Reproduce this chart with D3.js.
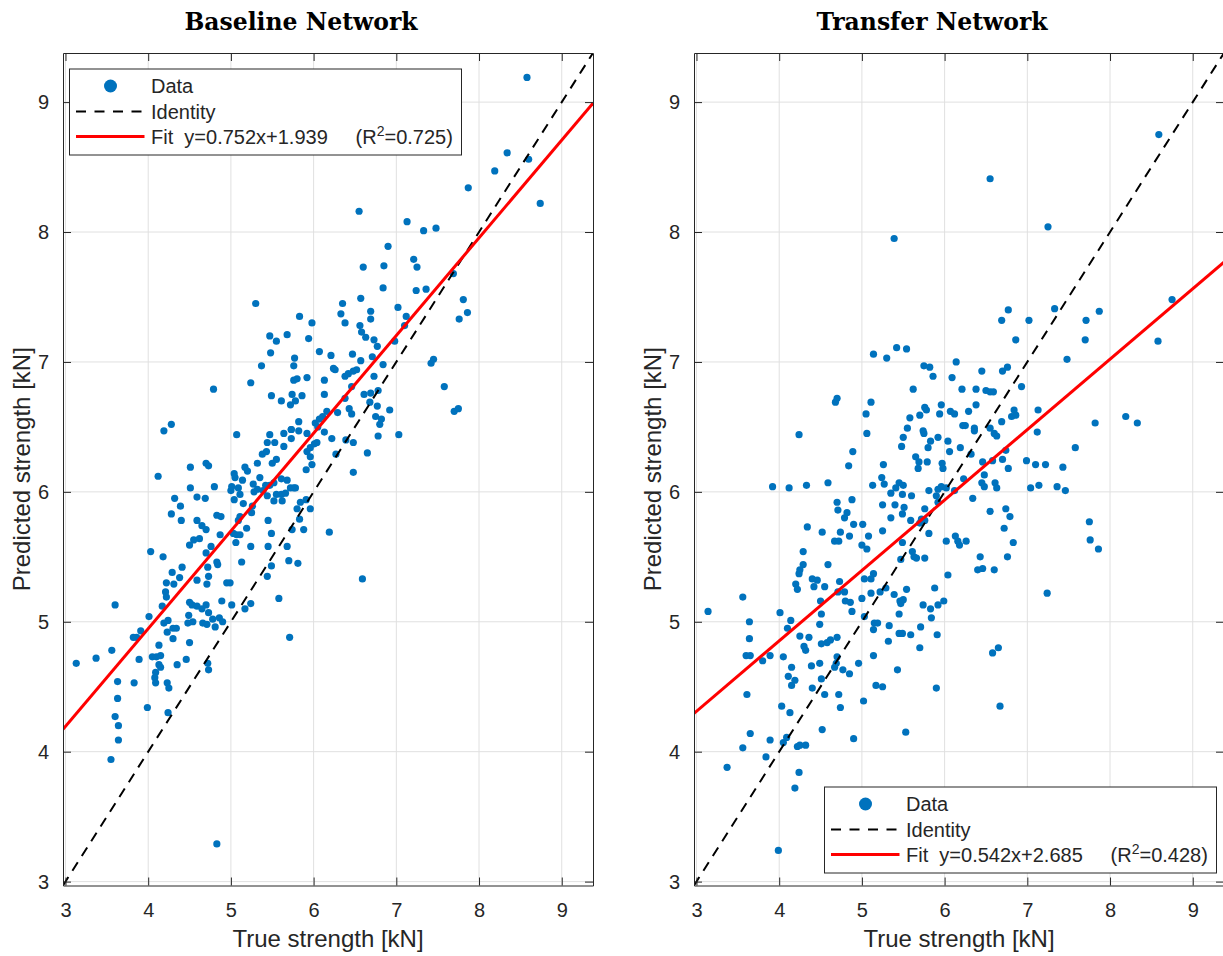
<!DOCTYPE html>
<html>
<head>
<meta charset="utf-8">
<script src="https://cdn.jsdelivr.net/npm/d3@7"></script>
<style>
  body { margin: 0; background: #fff; }
  svg { display: block; }
</style>
</head>
<body>
<div id="chart"></div>
<script>
// [true strength, predicted strength] in kN
const baselinePoints = [
  [4.19,6.47],[4.28,6.52],[5.07,6.44],[5.47,6.44],[5.64,6.45],[5.73,6.48],[5.73,6.41],[5.44,6.38],[5.53,6.38],[5.64,6.35],
  [5.38,6.29],[5.43,6.31],[5.55,6.25],[5.50,6.22],[4.12,6.12],[4.51,6.19],[4.70,6.22],[4.73,6.20],[5.04,6.14],[5.05,6.11],
  [5.17,6.19],[5.20,6.16],[5.14,6.09],[5.32,6.22],[5.35,6.11],[5.27,6.06],[5.42,6.05],[5.47,6.05],[5.52,6.07],[5.61,6.10],
  [5.68,6.09],[5.01,6.04],[5.00,6.01],[5.09,6.03],[5.11,5.98],[4.51,6.03],[4.80,6.04],[4.59,5.96],[4.69,5.95],[4.32,5.95],
  [4.39,5.89],[4.28,5.83],[4.40,5.78],[4.59,5.78],[5.04,5.94],[5.15,5.91],[5.26,5.89],[5.25,5.84],[5.11,5.81],[5.09,5.78],
  [5.28,6.00],[5.32,6.02],[5.39,6.01],[5.44,5.97],[5.55,5.98],[5.61,5.98],[5.52,5.93],[5.62,5.93],[5.66,5.99],[5.72,6.03],
  [4.83,5.82],[4.88,5.81],[4.65,5.74],[4.70,5.71],[4.62,5.64],[4.55,5.63],[4.50,5.59],[4.76,5.58],[4.70,5.53],[4.87,5.67],
  [5.03,5.68],[5.07,5.67],[5.11,5.67],[5.06,5.61],[5.24,5.58],[5.19,5.72],[5.45,5.78],[5.49,5.68],[5.45,5.58],[5.68,5.58],
  [5.74,5.71],[4.03,5.54],[4.18,5.50],[4.72,5.42],[4.59,5.32],[4.71,5.29],[4.83,5.46],[4.84,5.44],[4.73,5.35],[4.41,5.42],
  [4.29,5.38],[4.38,5.34],[4.22,5.30],[4.31,5.29],[4.21,5.23],[4.22,5.19],[4.17,5.12],[4.95,5.30],[4.99,5.30],[5.13,5.46],
  [5.49,5.43],[5.44,5.35],[5.70,5.47],[3.60,5.13],[4.01,5.04],[3.91,4.93],[3.82,4.88],[3.86,4.88],[4.50,5.15],[4.53,5.13],
  [4.59,5.12],[4.70,5.13],[4.65,5.10],[4.73,5.07],[4.49,5.05],[4.48,4.99],[4.54,5.00],[4.66,4.99],[4.71,4.98],[4.78,5.02],
  [4.86,5.03],[4.90,5.00],[4.81,4.96],[4.89,5.16],[5.01,5.13],[5.17,5.10],[5.24,5.14],[5.58,5.18],[4.19,4.99],[4.24,5.01],
  [4.23,4.92],[4.30,4.95],[4.34,4.95],[4.30,4.87],[4.13,4.82],[4.50,4.84],[3.56,4.78],[3.37,4.72],[3.13,4.68],[3.89,4.71],
  [4.05,4.73],[4.10,4.73],[4.15,4.74],[4.13,4.67],[4.15,4.65],[4.09,4.61],[4.08,4.57],[4.09,4.53],[4.23,4.53],[4.25,4.49],
  [4.35,4.67],[4.46,4.71],[4.72,4.68],[4.73,4.63],[5.71,4.88],[3.63,4.54],[3.83,4.53],[3.63,4.41],[3.99,4.34],[3.60,4.27],
  [3.64,4.20],[3.64,4.09],[3.55,3.94],[4.24,4.30],[4.83,3.29],
  [4.79,6.79],[5.24,6.84],[5.30,7.45],[5.37,6.97],[5.47,7.20],[5.55,7.16],[5.48,7.07],[5.68,7.21],[5.49,6.74],[5.61,6.70],
  [5.72,6.67],[5.74,6.75],[6.60,7.73],[6.85,7.74],[6.84,7.57],[6.57,7.49],[6.35,7.45],[6.33,7.37],[6.38,7.30],[6.69,7.39],
  [6.69,7.33],[7.02,7.42],[7.12,7.35],[7.10,7.28],[5.83,7.35],[5.98,7.30],[5.94,7.18],[6.07,7.08],[6.21,7.05],[6.47,7.06],
  [6.57,7.01],[6.56,7.28],[6.58,7.23],[6.63,7.19],[6.73,7.17],[6.77,7.12],[6.98,7.16],[5.77,7.03],[5.76,6.97],[5.76,6.86],
  [5.80,6.87],[5.92,6.88],[6.13,6.86],[6.24,6.95],[6.26,6.94],[6.38,6.89],[6.42,6.91],[6.48,6.93],[6.52,6.94],[6.71,7.04],
  [6.84,6.98],[6.73,6.89],[6.78,6.78],[6.69,6.76],[6.61,6.75],[6.68,6.69],[6.77,6.66],[6.92,6.63],[6.75,6.58],[6.80,6.52],
  [6.82,6.56],[6.78,6.43],[7.03,6.44],[6.65,6.30],[6.48,6.15],[5.78,6.70],[5.86,6.74],[6.13,6.75],[6.46,6.81],[6.38,6.72],
  [6.43,6.64],[6.46,6.60],[6.29,6.61],[6.16,6.62],[6.11,6.58],[6.07,6.56],[6.02,6.53],[6.05,6.50],[5.82,6.54],[5.73,6.48],
  [5.92,6.45],[5.82,6.47],[6.04,6.38],[6.13,6.46],[6.22,6.41],[6.01,6.37],[5.96,6.34],[5.92,6.31],[5.96,6.27],[6.27,6.29],
  [5.91,6.17],[5.98,6.21],[6.39,6.40],[6.48,6.38],[5.76,6.03],[5.78,6.03],[5.84,5.92],[5.80,5.87],[5.91,5.94],[5.96,5.87],
  [5.83,5.79],[5.88,5.71],[6.19,5.69],[5.81,5.45],[6.59,5.33],
  [8.58,9.19],[8.34,8.61],[8.60,8.56],[8.19,8.47],[7.87,8.34],[8.74,8.22],[6.55,8.16],[7.13,8.08],[7.33,8.01],[7.48,8.03],
  [6.90,7.89],[7.21,7.79],[7.25,7.73],[7.24,7.55],[7.36,7.56],[7.69,7.68],[7.81,7.48],[7.86,7.38],[7.76,7.33],[7.42,6.99],
  [7.45,7.02],[7.58,6.81],[7.70,6.62],[7.75,6.64]
];

const transferPoints = [
  [3.92,6.04],[4.12,6.03],[4.33,6.05],[4.59,6.07],[5.13,6.05],[5.24,6.11],[5.27,6.06],[5.35,5.99],[5.41,6.03],[5.45,6.07],
  [5.50,6.05],[5.49,5.98],[5.60,5.97],[4.70,5.92],[4.71,5.86],[4.88,5.94],[4.82,5.84],[4.79,5.80],[4.90,5.75],[5.01,5.75],
  [5.25,5.90],[5.35,5.80],[5.40,5.90],[5.51,5.88],[5.49,5.83],[5.59,5.78],[5.25,5.70],[4.34,5.73],[4.52,5.69],[4.74,5.69],
  [4.67,5.62],[4.72,5.62],[4.85,5.66],[5.08,5.66],[5.00,5.59],[5.06,5.56],[5.49,5.61],[5.61,5.54],[5.63,5.50],[5.66,5.49],
  [5.47,5.48],[4.29,5.54],[4.29,5.44],[4.25,5.40],[4.24,5.37],[4.20,5.29],[4.22,5.25],[4.59,5.44],[4.40,5.33],[4.46,5.32],
  [4.42,5.27],[4.55,5.27],[4.73,5.31],[4.79,5.23],[4.71,5.23],[4.88,5.08],[4.86,5.15],[4.80,5.16],[5.14,5.37],[5.11,5.33],
  [5.03,5.33],[5.00,5.18],[5.11,5.22],[5.22,5.23],[5.29,5.26],[5.39,5.21],[5.46,5.16],[5.47,5.14],[5.45,5.06],[5.50,5.17],
  [5.54,5.25],[5.03,5.04],[5.15,4.99],[5.19,4.99],[5.14,4.94],[5.33,4.97],[5.32,4.85],[5.45,4.91],[5.49,4.91],[5.59,4.90],
  [5.71,4.96],[5.70,4.80],[5.43,4.63],[5.14,4.74],[5.17,4.51],[5.25,4.50],[3.56,5.19],[3.14,5.08],[3.64,5.00],[3.64,4.87],
  [3.60,4.74],[3.65,4.74],[3.80,4.70],[3.89,4.74],[4.01,5.07],[4.14,5.01],[4.10,4.95],[4.05,4.73],[4.15,4.65],[4.11,4.58],
  [4.19,4.55],[4.15,4.51],[4.25,4.89],[4.30,4.81],[4.32,4.78],[4.36,4.88],[4.39,4.66],[4.49,4.68],[4.49,4.98],[4.51,5.06],
  [4.51,4.83],[4.50,5.16],[4.58,4.84],[4.62,4.86],[4.70,4.88],[4.70,4.73],[4.67,4.65],[4.69,4.68],[4.77,4.63],[4.85,4.60],
  [4.96,4.68],[4.51,4.56],[4.40,4.49],[4.55,4.44],[4.72,4.44],[4.74,4.34],[5.02,4.39],[3.61,4.44],[4.03,4.35],[4.13,4.30],
  [3.65,4.14],[3.56,4.03],[3.89,4.09],[3.84,3.96],[4.09,4.11],[4.05,4.07],[4.22,4.04],[4.25,4.05],[4.32,4.05],[4.52,4.17],
  [4.90,4.10],[3.37,3.88],[4.24,3.84],[4.19,3.72],[3.99,3.24],[5.53,4.15],
  [6.77,7.40],[6.69,7.32],[6.86,7.17],[5.14,7.06],[5.30,7.03],[5.42,7.11],[5.54,7.10],[5.75,6.97],[5.82,6.96],[5.86,6.89],
  [6.14,7.00],[6.09,6.88],[6.45,6.93],[6.70,6.93],[6.76,6.96],[5.62,6.79],[6.21,6.79],[6.38,6.79],[6.50,6.78],[6.55,6.77],
  [6.59,6.77],[4.68,6.69],[4.70,6.72],[5.11,6.69],[5.05,6.60],[5.06,6.45],[5.76,6.65],[5.78,6.63],[5.96,6.67],[5.94,6.60],
  [5.70,6.59],[5.58,6.57],[6.07,6.62],[6.12,6.60],[6.29,6.62],[6.38,6.67],[6.22,6.51],[6.25,6.51],[6.36,6.49],[6.36,6.47],
  [6.55,6.49],[6.60,6.45],[6.63,6.43],[6.69,6.54],[6.81,6.58],[6.84,6.63],[6.86,6.59],[4.24,6.44],[5.55,6.49],[5.50,6.42],
  [5.74,6.47],[5.75,6.45],[5.83,6.39],[5.80,6.34],[5.48,6.35],[5.92,6.42],[6.04,6.39],[6.06,6.31],[6.19,6.34],[6.32,6.29],
  [4.89,6.31],[4.84,6.20],[5.26,6.21],[5.65,6.27],[5.69,6.23],[5.68,6.18],[5.79,6.23],[5.97,6.22],[5.98,6.18],[6.46,6.23],
  [6.77,6.18],[6.48,6.13],[6.45,6.07],[6.48,6.04],[6.61,6.07],[6.63,6.03],[6.70,6.25],[6.74,6.32],[6.58,6.24],[6.23,6.10],
  [5.81,6.01],[5.90,5.97],[5.92,6.02],[5.96,6.04],[6.02,6.03],[6.12,6.01],[5.76,5.87],[5.72,5.79],[5.70,5.76],[5.76,5.78],
  [5.81,5.68],[5.92,5.92],[6.34,5.95],[6.55,5.85],[6.74,5.87],[6.79,5.81],[6.72,5.72],[6.83,5.61],[6.76,5.50],[6.02,5.62],
  [6.13,5.66],[6.16,5.62],[6.18,5.59],[6.26,5.62],[5.76,5.49],[6.43,5.50],[6.40,5.40],[6.46,5.41],[6.60,5.40],[6.04,5.36],
  [5.88,5.26],[5.92,5.13],[5.99,5.16],[5.74,5.13],[5.83,5.10],[5.84,5.03],[5.91,4.90],[6.58,4.76],[6.65,4.80],[6.67,4.35],
  [5.90,4.49],
  [8.59,8.75],[6.55,8.41],[7.25,8.04],[8.75,7.48],[7.33,7.41],[7.87,7.39],[7.02,7.32],[7.71,7.32],[7.70,7.17],[8.58,7.16],
  [7.48,7.02],[6.93,6.81],[7.13,6.63],[7.12,6.46],[7.82,6.53],[8.19,6.58],[8.33,6.53],[7.58,6.34],[6.99,6.24],[7.10,6.21],
  [7.22,6.21],[7.43,6.19],[7.04,6.03],[7.14,6.05],[7.36,6.04],[7.46,6.01],[7.75,5.77],[7.76,5.63],[7.86,5.56],[7.24,5.22],
  [5.39,7.95]
];

const panelTitles = ["Baseline Network", "Transfer Network"];
const fitSlopes = [0.752, 0.542];
const fitIntercepts = [1.939, 2.685];
const fitR2 = [0.725, 0.428];
const axisLimits = [2.97, 9.378];
const tickValues = [3, 4, 5, 6, 7, 8, 9];
const legendLabels = ["Data", "Identity", "Fit"];

const width = 1223;
const height = 956;
const plotTop = 53;
const plotBottom = 885.5;
const panels = [
  { left: 63, right: 593, points: baselinePoints, legendLeft: 69.5, legendTop: 69 },
  { left: 694, right: 1224, points: transferPoints, legendLeft: 824.5, legendTop: 787 }
];

const dataColor = "#0072BD";
const axisColor = "#262626";
const sansFont = "'Liberation Sans', Arial, Helvetica, sans-serif";
const fmt = d3.format(".3f");

const svg = d3.select("#chart")
  .append("svg")
  .attr("width", width)
  .attr("height", height)
  .style("background", "#fff");

panels.forEach((p, i) => {
  const x = d3.scaleLinear().domain(axisLimits).range([p.left, p.right]);
  const y = d3.scaleLinear().domain(axisLimits).range([plotBottom, plotTop]);
  const g = svg.append("g");

  svg.append("clipPath")
    .attr("id", `clip-${i}`)
    .append("rect")
    .attr("x", p.left)
    .attr("y", plotTop)
    .attr("width", p.right - p.left)
    .attr("height", plotBottom - plotTop);

  // grid
  g.append("g").selectAll("line")
    .data(tickValues)
    .join("line")
    .attr("x1", d => x(d)).attr("x2", d => x(d))
    .attr("y1", plotTop).attr("y2", plotBottom)
    .attr("stroke", "#e0e0e0").attr("stroke-width", 1);
  g.append("g").selectAll("line")
    .data(tickValues)
    .join("line")
    .attr("x1", p.left).attr("x2", p.right)
    .attr("y1", d => y(d)).attr("y2", d => y(d))
    .attr("stroke", "#e0e0e0").attr("stroke-width", 1);

  const plot = g.append("g").attr("clip-path", `url(#clip-${i})`);

  plot.selectAll("circle")
    .data(p.points)
    .join("circle")
    .attr("cx", d => x(d[0]))
    .attr("cy", d => y(d[1]))
    .attr("r", 3.6)
    .attr("fill", dataColor);

  plot.append("line")
    .attr("x1", x(axisLimits[0])).attr("y1", y(axisLimits[0]))
    .attr("x2", x(axisLimits[1])).attr("y2", y(axisLimits[1]))
    .attr("stroke", "#000")
    .attr("stroke-width", 2)
    .attr("stroke-dasharray", "10,7.5");

  const fitLine = d3.line()
    .x(d => x(d))
    .y(d => y(fitSlopes[i] * d + fitIntercepts[i]));
  plot.append("path")
    .attr("d", fitLine(axisLimits))
    .attr("fill", "none")
    .attr("stroke", "#FF0000")
    .attr("stroke-width", 3);

  // axes (ticks inward on all four sides)
  const styleAxis = sel => {
    sel.attr("font-family", null).attr("font-size", null);
    sel.selectAll("path.domain").attr("stroke", axisColor).attr("stroke-width", 1);
    sel.selectAll(".tick line").attr("stroke", axisColor).attr("stroke-width", 1);
    sel.selectAll(".tick text")
      .attr("fill", axisColor)
      .style("font-family", sansFont)
      .style("font-size", "20px");
  };
  const tickFmt = d3.format("d");
  g.append("g")
    .attr("transform", `translate(0,${plotBottom})`)
    .call(d3.axisBottom(x).tickValues(tickValues).tickFormat(tickFmt).tickSize(-8).tickSizeOuter(0).tickPadding(17))
    .call(styleAxis);
  g.append("g")
    .attr("transform", `translate(0,${plotTop})`)
    .call(d3.axisTop(x).tickValues(tickValues).tickSize(-8).tickSizeOuter(0).tickFormat(""))
    .call(styleAxis);
  g.append("g")
    .attr("transform", `translate(${p.left},0)`)
    .call(d3.axisLeft(y).tickValues(tickValues).tickFormat(tickFmt).tickSize(-8).tickSizeOuter(0).tickPadding(14))
    .call(styleAxis);
  g.append("g")
    .attr("transform", `translate(${p.right},0)`)
    .call(d3.axisRight(y).tickValues(tickValues).tickSize(-8).tickSizeOuter(0).tickFormat(""))
    .call(styleAxis);

  // labels
  const cx = (p.left + p.right) / 2;
  g.append("text")
    .attr("x", cx)
    .attr("y", 947)
    .attr("text-anchor", "middle")
    .attr("fill", axisColor)
    .style("font-family", sansFont)
    .style("font-size", "24px")
    .text("True strength [kN]");
  g.append("text")
    .attr("transform", `translate(${p.left - 33},${(plotTop + plotBottom) / 2}) rotate(-90)`)
    .attr("text-anchor", "middle")
    .attr("fill", axisColor)
    .style("font-family", sansFont)
    .style("font-size", "24px")
    .text("Predicted strength [kN]");
  g.append("text")
    .attr("x", cx - 27)
    .attr("y", 30)
    .attr("text-anchor", "middle")
    .attr("fill", "#000")
    .style("font-family", "'DejaVu Serif', serif")
    .style("font-weight", "bold")
    .style("font-size", "23.5px")
    .text(panelTitles[i]);

  // legend
  const lg = g.append("g").attr("transform", `translate(${p.legendLeft},${p.legendTop})`);
  lg.append("rect")
    .attr("width", 392).attr("height", 86)
    .attr("fill", "#fff")
    .attr("stroke", axisColor).attr("stroke-width", 1);
  const rows = [17, 42.5, 67.5];
  lg.append("circle").attr("cx", 41).attr("cy", rows[0]).attr("r", 6.5).attr("fill", dataColor);
  lg.append("line")
    .attr("x1", 6.5).attr("x2", 75).attr("y1", rows[1]).attr("y2", rows[1])
    .attr("stroke", "#000").attr("stroke-width", 2).attr("stroke-dasharray", "10,8.5");
  lg.append("line")
    .attr("x1", 6.5).attr("x2", 75).attr("y1", rows[2]).attr("y2", rows[2])
    .attr("stroke", "#FF0000").attr("stroke-width", 3);
  const labelText = (row) => lg.append("text")
    .attr("x", 81.5).attr("y", rows[row] + 7)
    .attr("fill", axisColor)
    .style("font-family", sansFont)
    .style("font-size", "20px");
  labelText(0).text(legendLabels[0]);
  labelText(1).text(legendLabels[1]);
  const fitText = labelText(2);
  fitText.append("tspan")
    .text(`${legendLabels[2]}\u00A0\u00A0y=${fmt(fitSlopes[i])}x+${fmt(fitIntercepts[i])}\u00A0\u00A0\u00A0\u00A0\u00A0(R`);
  fitText.append("tspan").attr("dy", -8).style("font-size", "14px").text("2");
  fitText.append("tspan").attr("dy", 8).text(`=${fmt(fitR2[i])})`);
});
</script>
</body>
</html>
